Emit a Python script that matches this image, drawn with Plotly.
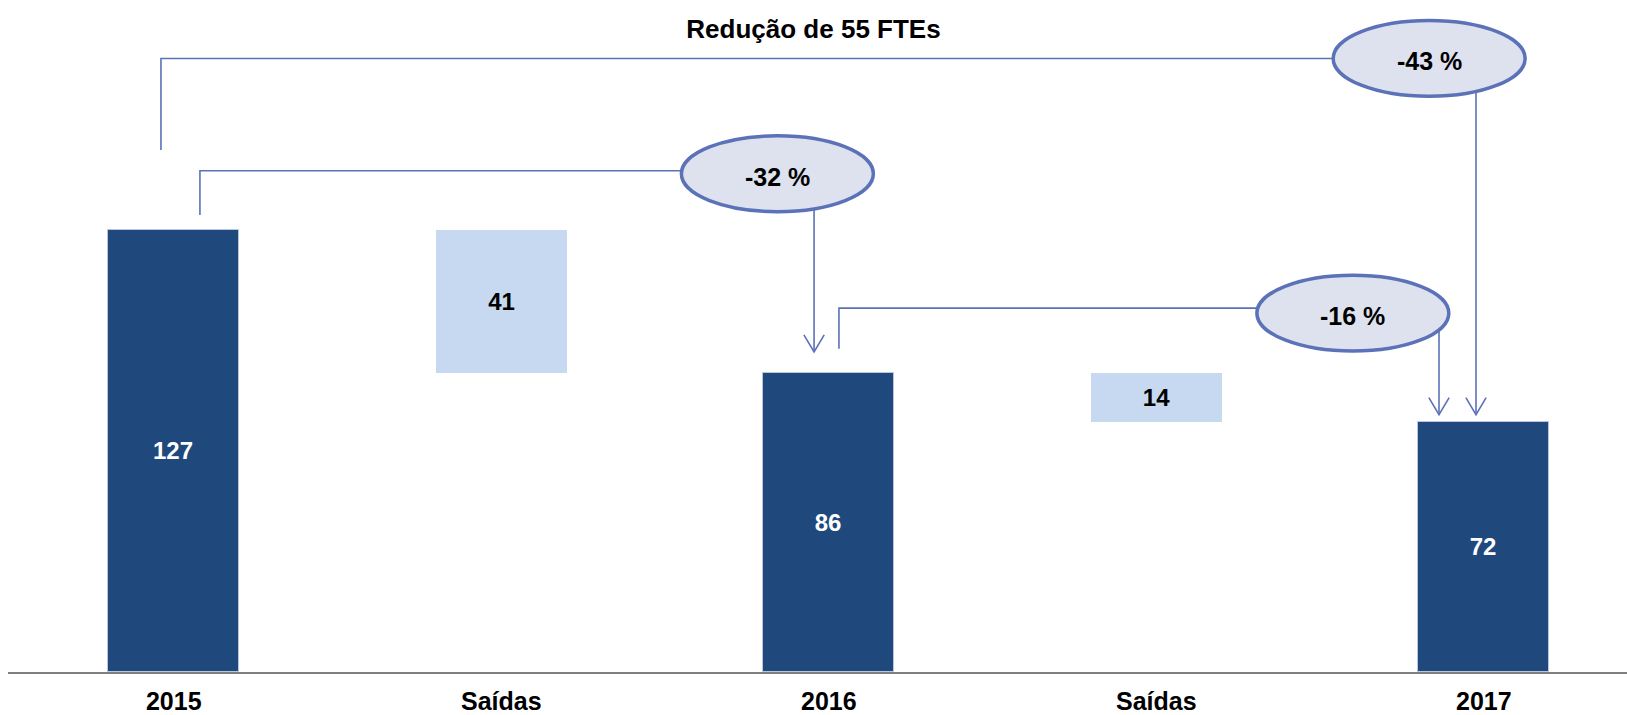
import plotly.graph_objects as go

# ---- data ----
categories = ["2015", "Saídas", "2016", "Saídas", "2017"]
totals = [127, 86, 72]          # headcount per year (FTEs)
exits = [41, 14]                # saídas between years
title_text = "Redução de 55 FTEs"

DARK = "#1F497D"
LIGHT = "#C6D9F1"
LINE = "#5B72B8"
ELL_FILL = "#DEE2EF"
FONT = "Liberation Sans, Arial, Helvetica, sans-serif"

x_tot = [0, 2, 4]
x_exit = [1, 3]
exit_base = [totals[i] - exits[i] for i in range(len(exits))]

fig = go.Figure()
fig.add_trace(go.Bar(
    x=x_tot, y=totals, width=0.4, marker=dict(color=DARK, line=dict(color="#B9C6DC", width=1)),
    text=[str(v) for v in totals], textposition="inside", insidetextanchor="middle",
    textangle=0, textfont=dict(color="white", size=24, family=FONT, weight="bold"),
    hoverinfo="skip", showlegend=False))
fig.add_trace(go.Bar(
    x=x_exit, y=exits, base=exit_base, width=0.4, marker=dict(color=LIGHT, line=dict(width=0)),
    text=[str(v) for v in exits], textposition="inside", insidetextanchor="middle",
    textangle=0, textfont=dict(color="black", size=24, family=FONT, weight="bold"),
    hoverinfo="skip", showlegend=False))

# ---- brackets (from bar a to bar b) ----
def pct(a, b):
    return round((b - a) / a * 100)

# (start idx, end idx, left x offset, left gap, level above start, ellipse cx, ellipse dy, right x offset, tip gap)
brackets = [
    (0, 1, 0.080, 4.4, 17.1, 1.843, -0.86, -0.045, 6.0),
    (1, 2, 0.031, 6.9, 18.6, 3.600, -1.44, -0.137, 2.0),
    (0, 2, -0.039, 23.1, 49.4, 3.833, 0.0, -0.024, 2.0),
]
RX = 0.293
RY = 10.9
AH_W = 0.031
AH_H = 4.9

shapes = []
annotations = []
for (a, b, lx_off, lgap, lvl, cx, edy, rx_off, tgap) in brackets:
    xa = x_tot[a] + lx_off
    ybot = totals[a] + lgap
    level = totals[a] + lvl
    cy = level + edy
    xr = x_tot[b] + rx_off
    tip = totals[b] + tgap
    # left vertical + horizontal to ellipse
    shapes.append(dict(type="path", xref="x", yref="y",
                       path=f"M {xa},{ybot} L {xa},{level} L {cx},{level}",
                       line=dict(color=LINE, width=1.6)))
    # right vertical down to arrow tip
    shapes.append(dict(type="line", xref="x", yref="y", x0=xr, x1=xr, y0=cy, y1=tip,
                       line=dict(color=LINE, width=1.6)))
    # open arrowhead
    shapes.append(dict(type="path", xref="x", yref="y",
                       path=f"M {xr-AH_W},{tip+AH_H} L {xr},{tip} L {xr+AH_W},{tip+AH_H}",
                       line=dict(color=LINE, width=1.6)))
    # ellipse
    shapes.append(dict(type="circle", xref="x", yref="y",
                       x0=cx - RX, x1=cx + RX, y0=cy - RY, y1=cy + RY,
                       fillcolor=ELL_FILL, line=dict(color=LINE, width=3.5), layer="above"))
    annotations.append(dict(x=cx, y=cy, xref="x", yref="y", showarrow=False, yshift=-3,
                            text=f"<b>{pct(totals[a], totals[b])} %</b>",
                            font=dict(size=25, color="black", family=FONT)))

fig.update_layout(
    width=1627, height=715,
    margin=dict(l=8, r=0, t=0, b=43),
    paper_bgcolor="white", plot_bgcolor="white",
    bargap=0,
    shapes=shapes, annotations=annotations,
    title=dict(text=f"<b>{title_text}</b>", x=0.5, xref="container", xanchor="center",
               y=1 - 29 / 715, yanchor="middle", yref="container",
               font=dict(size=26, color="black", family=FONT)),
    xaxis=dict(range=[-0.506, 4.437], tickvals=list(range(len(categories))),
               ticktext=[f"<b>{c}</b>" for c in categories],
               tickfont=dict(size=25, color="black", family=FONT),
               ticklabelstandoff=6,
               showline=True, linecolor="#7F7F7F", linewidth=2, showgrid=False,
               zeroline=False, ticks=""),
    yaxis=dict(range=[0, 193.2], visible=False, showgrid=False, zeroline=False),
)

fig.write_html("out.html")
